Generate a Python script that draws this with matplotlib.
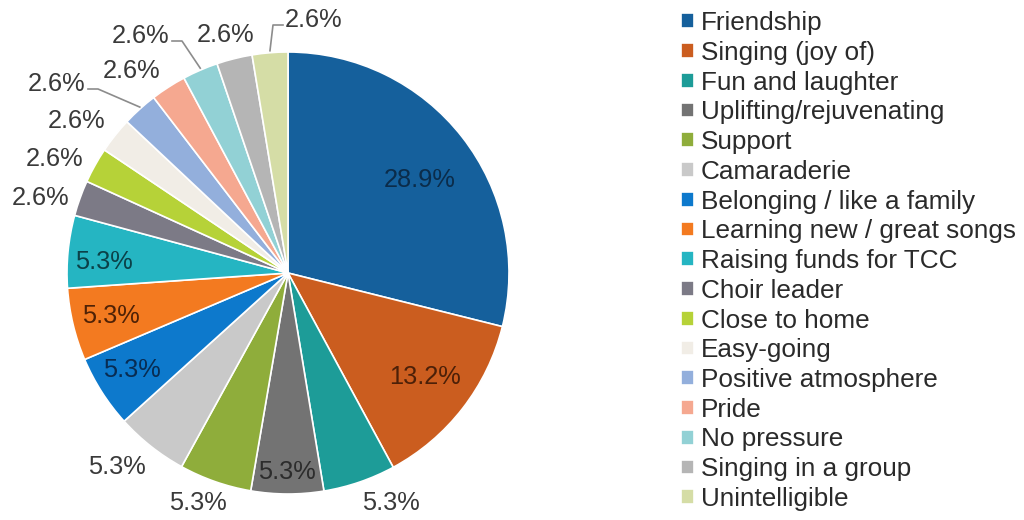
import numpy as np
import matplotlib.pyplot as plt

plt.rcParams['font.family'] = ['Liberation Sans', 'DejaVu Sans']

categories = ['Friendship', 'Singing (joy of)', 'Fun and laughter',
              'Uplifting/rejuvenating', 'Support', 'Camaraderie',
              'Belonging / like a family', 'Learning new / great songs',
              'Raising funds for TCC', 'Choir leader', 'Close to home',
              'Easy-going', 'Positive atmosphere', 'Pride', 'No pressure',
              'Singing in a group', 'Unintelligible']
percent = [28.9, 13.2, 5.3, 5.3, 5.3, 5.3, 5.3, 5.3, 5.3,
           2.6, 2.6, 2.6, 2.6, 2.6, 2.6, 2.6, 2.6]

colors = ['#15609c', '#cb5d1f', '#1d9c98', '#737373', '#8fad3b', '#c9c9c9',
          '#0d79cc', '#f37a20', '#25b5c2', '#7c7a86', '#b6d238', '#f1ede6',
          '#93afdc', '#f5a890', '#92d1d5', '#b5b5b5', '#d5dda6']
text_colors = ['#0b2c4a', '#4c2008', '#3a3a3a', '#2c2c2c', '#3a3a3a', '#3a3a3a',
               '#082c52', '#4f2206', '#0b4148'] + ['#3a3a3a'] * 8

# label offsets from pie centre, in pixels (y up)
label_off = [(132, 93), (137, -104), (103, -230), (-1, -199), (-90, -230),
             (-171, -194), (-156, -97), (-177, -43), (-184, 11),
             (-247, 75), (-233, 114), (-211, 152), (-231, 189), (-156, 202),
             (-147, 237), (-62, 238), (26, 253)]

W, H = 1024, 520
cx, cy, R = 288, H - 273, 221

fig = plt.figure(figsize=(W / 100, H / 100), dpi=100)
ax = fig.add_axes([0, 0, 1, 1])
wedges, _ = ax.pie(percent, colors=colors, startangle=90, counterclock=False,
                   radius=R, center=(cx, cy),
                   wedgeprops=dict(edgecolor='white', linewidth=1.2))
ax.set_xlim(0, W)
ax.set_ylim(0, H)
ax.set_aspect('equal')
ax.axis('off')

for p, (dx, dy), tc in zip(percent, label_off, text_colors):
    ax.text(cx + dx, cy + dy, f'{p:.1f}%', ha='center', va='center',
            fontsize=18.3, color=tc)

# leader lines for the crowded small slices
fr = np.cumsum([0] + percent) / sum(percent)
for i, side in [(12, 1), (14, 1), (16, -1)]:
    mid = np.deg2rad(90 - 360 * (fr[i] + fr[i + 1]) / 2)
    ex, ey = cx + R * np.cos(mid), cy + R * np.sin(mid)
    lx, ly = cx + label_off[i][0], cy + label_off[i][1]
    sx = lx + side * 31
    kx = sx + side * 10
    ax.plot([sx, kx, ex], [ly - 5, ly - 5, ey + 2], color='#8c8c8c', lw=1.2)

leg = ax.legend(wedges, categories, loc='upper left',
                bbox_to_anchor=(668 / W, 1 + 2 / H), frameon=False,
                fontsize=18.8, handlelength=0.5, handleheight=0.5,
                handletextpad=0.25, labelspacing=0.22, borderpad=0,
                labelcolor='#2a2a2a')

fig.savefig('out.png', dpi=100, facecolor='white')
